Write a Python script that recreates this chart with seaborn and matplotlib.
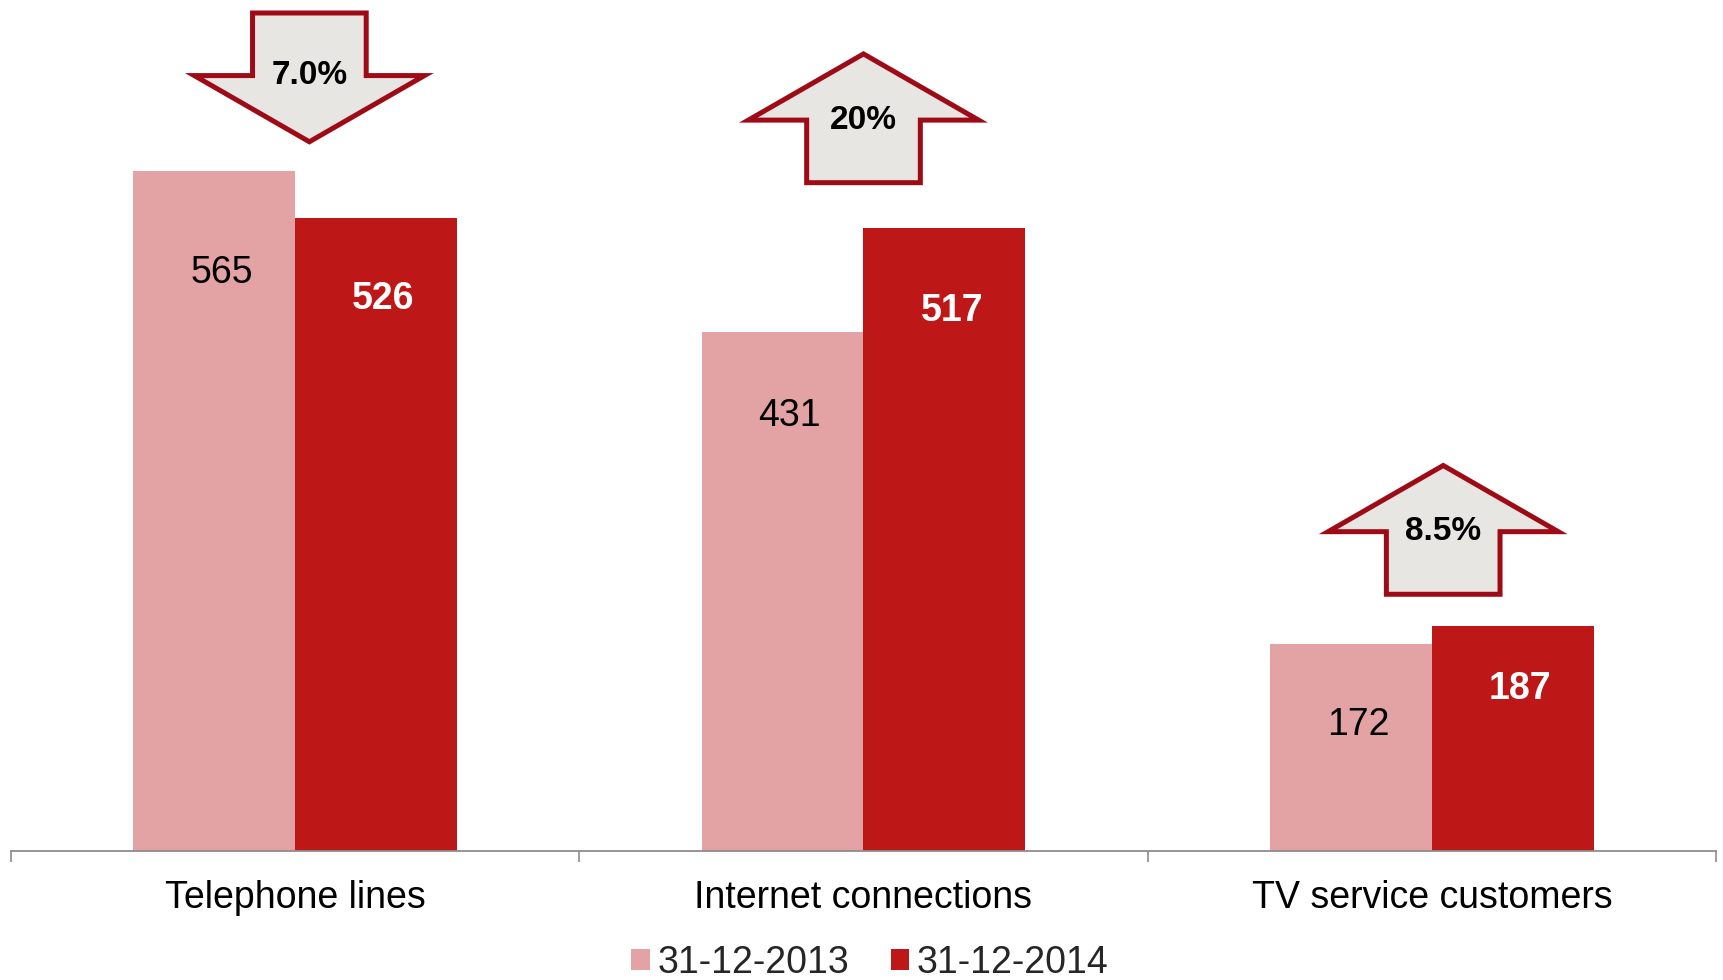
import numpy as np
import pandas as pd
import matplotlib
matplotlib.use('Agg')
import matplotlib.pyplot as plt
from matplotlib.patches import Patch, Polygon
from matplotlib.ticker import FixedLocator
import seaborn as sns

# ==================== Data ====================
categories = ['Telephone lines', 'Internet connections', 'TV service customers']
series = ['31-12-2013', '31-12-2014']
values_2013 = [565, 431, 172]
values_2014 = [526, 517, 187]
change_labels = ['7.0%', '20%', '8.5%']
change_dirs = ['down', 'up', 'up']

# ==================== Layout tweaks (data units) ====================
label_drop = [[85, 70, 68], [68, 69, 53]]   # how far below bar top the value sits
arrow_gap = [24, 38, 26]                     # space between bars and arrow
arrow_shift = [0.025, 0.0, 0.02]             # horizontal nudge of arrows

# ==================== Style ====================
COL_2013 = '#E3A3A4'
COL_2014 = '#BE1718'
ARROW_FILL = '#E8E6E3'
ARROW_EDGE = '#9E0B17'
AXIS_GREY = '#8C8C8C'

sns.set_style('white')
plt.rcParams['font.family'] = ['Liberation Sans', 'DejaVu Sans']

df = pd.DataFrame({
    'category': categories * 2,
    'date': [series[0]] * 3 + [series[1]] * 3,
    'value': values_2013 + values_2014,
})

fig = plt.figure(figsize=(17.23, 9.8), dpi=100)
ax = fig.add_axes([11 / 1723, 129.4 / 980, 1705 / 1723, 850.6 / 980])

sns.barplot(data=df, x='category', y='value', hue='date', order=categories,
            hue_order=series, palette=[COL_2013, COL_2014], width=0.57,
            saturation=1, legend=False, linewidth=0, ax=ax)

ax.set_xlim(-0.5, 2.5)
ax.set_ylim(0, 706.8)
ax.set_xlabel('')
ax.set_ylabel('')
ax.set_yticks([])
for s in ['top', 'right', 'left']:
    ax.spines[s].set_visible(False)
ax.spines['bottom'].set_color(AXIS_GREY)
ax.spines['bottom'].set_linewidth(1.3)

ax.tick_params(axis='x', which='major', bottom=False, length=0, pad=21,
               labelsize=27, labelcolor='black')
ax.xaxis.set_minor_locator(FixedLocator([-0.5, 0.5, 1.5, 2.5]))
ax.tick_params(axis='x', which='minor', bottom=True, length=8, width=1.2,
               color=AXIS_GREY, direction='out')

# value labels inside bars
for i, cont in enumerate(ax.containers):
    for j, bar in enumerate(cont):
        h = bar.get_height()
        ax.text(bar.get_x() + bar.get_width() / 2 + 0.013, h - label_drop[i][j],
                f'{h:.0f}', ha='center', va='center', fontsize=27,
                color='black' if i == 0 else 'white',
                fontweight='normal' if i == 0 else 'bold')

# block arrows showing change
shaft_w, head_w = 0.2, 0.405
shaft_len, head_len = 52, 55
for k, (lab, d) in enumerate(zip(change_labels, change_dirs)):
    cx = k + arrow_shift[k]
    top = max(values_2013[k], values_2014[k]) + arrow_gap[k]
    if d == 'up':
        y0 = top
        yb = y0 + shaft_len
        pts = [(cx - shaft_w / 2, y0), (cx + shaft_w / 2, y0),
               (cx + shaft_w / 2, yb), (cx + head_w / 2, yb),
               (cx, yb + head_len), (cx - head_w / 2, yb),
               (cx - shaft_w / 2, yb)]
    else:
        yt = top
        yb = yt + head_len
        pts = [(cx, yt), (cx + head_w / 2, yb), (cx + shaft_w / 2, yb),
               (cx + shaft_w / 2, yb + shaft_len),
               (cx - shaft_w / 2, yb + shaft_len),
               (cx - shaft_w / 2, yb), (cx - head_w / 2, yb)]
    ax.add_patch(Polygon(pts, closed=True, facecolor=ARROW_FILL,
                         edgecolor=ARROW_EDGE, linewidth=3.6,
                         joinstyle='miter', clip_on=False, zorder=5))
    ax.text(cx, yb, lab, ha='center', va='center', fontsize=24,
            fontweight='bold', color='black', zorder=6)

handles = [Patch(facecolor=COL_2013, edgecolor='none', label=series[0]),
           Patch(facecolor=COL_2014, edgecolor='none', label=series[1])]
fig.legend(handles=handles, loc='lower center', bbox_to_anchor=(0.505, -0.035),
           ncol=2, frameon=False, fontsize=27, handlelength=0.5,
           handleheight=0.5, handletextpad=0.2, columnspacing=1.1)

fig.savefig('out.png', dpi=100)
